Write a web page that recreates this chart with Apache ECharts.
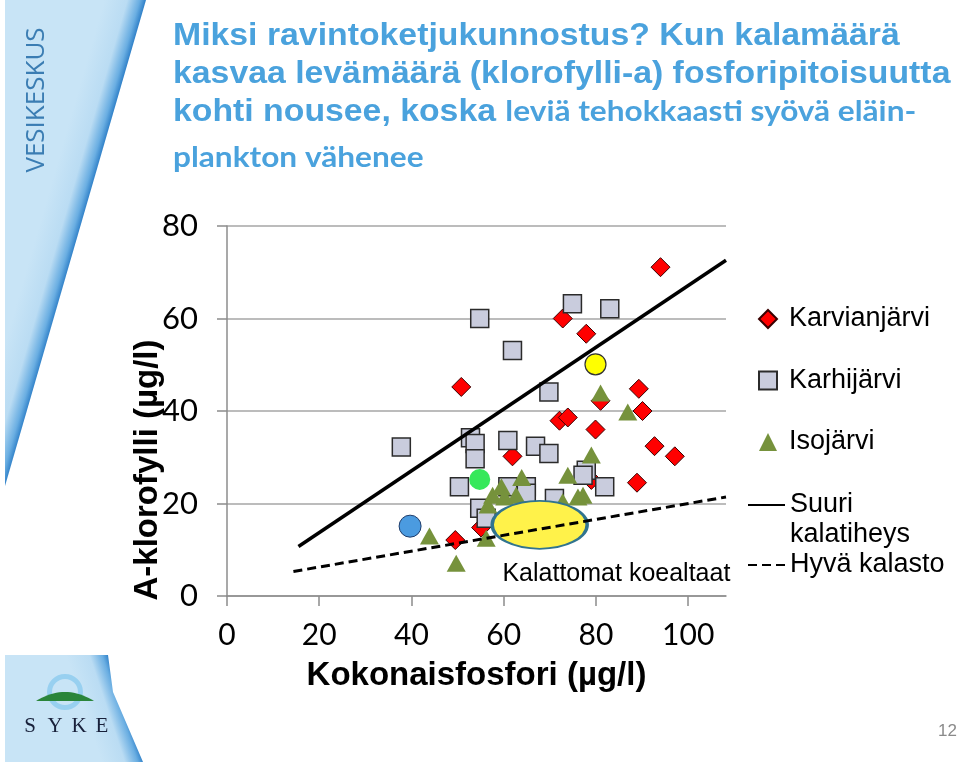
<!DOCTYPE html>
<html><head><meta charset="utf-8">
<script src="https://cdn.jsdelivr.net/npm/echarts@6/dist/echarts.min.js"></script>
<style>html,body{margin:0;padding:0;background:#fff}#c{width:960px;height:765px}</style>
</head><body><div id="c"></div>
<script>
// ---- data ----
const xTicks = [0, 20, 40, 60, 80, 100];
const yTicks = [0, 20, 40, 60, 80];
const karvianjarvi = [[50.8,45.2],[72.8,60.0],[77.9,56.7],[94.0,71.1],[72.1,37.9],[73.9,38.6],[79.9,36.0],[81.0,42.2],[89.3,44.8],[90.1,40.0],[92.7,32.4],[97.1,30.2],[88.9,24.5],[79.0,25.1],[61.9,30.2],[55.1,14.8],[49.5,12.1]];
const karhijarvi = [[54.8,60.0],[74.9,63.2],[83.0,62.1],[61.9,53.1],[69.8,44.1],[37.8,32.2],[52.8,34.2],[53.8,33.0],[53.8,29.7],[60.9,33.6],[66.9,32.4],[69.8,30.8],[50.4,23.6],[60.9,23.6],[64.9,23.6],[64.9,22.2],[54.8,19.0],[56.2,16.8],[71.0,21.1],[77.9,27.2],[77.2,26.1],[81.9,23.6]];
const isojarvi = [[43.9,13.0],[49.7,7.1],[56.2,12.5],[56.6,19.7],[57.6,21.8],[59.5,23.6],[60.2,21.4],[62.7,21.8],[63.9,25.6],[73.9,26.1],[72.8,20.4],[76.1,21.4],[77.2,21.8],[79.0,30.5],[81.0,43.9],[86.9,39.8]];
const highlightGreen = [[54.8,25.2]];
const highlightBlue = [[39.7,15.1]];
const highlightYellow = [[79.9,50.1]];
const fishlessPonds = [[67.8,15.4]];
const suuriKalatiheys = [[15.5,10.7],[108.2,72.6]];
const hyvaKalasto = [[14.4,5.3],[108.2,21.4]];
const names = ['Karvianjärvi','Karhijärvi','Isojärvi','Suuri kalatiheys','Hyvä kalasto'];

const chart = echarts.init(document.getElementById('c'), null, {renderer:'canvas'});
const titleBlue = '#4aa2dd';
const arial = '"Liberation Sans", Arial, sans-serif';
const calib = 'Lato, "Open Sans", sans-serif';
const TSX = 1.09;

// logo dome outline (decoration)
const dome = [];
for (let i = 0; i <= 20; i++) {
  const t = i / 20;
  dome.push([36 + 58 * t, 701 - 9 * (1 - Math.pow(2 * t - 1, 2))]);
}
const panelFill = (x, y, x2, y2) => ({type: 'linear', x, y, x2, y2, global: true,
  colorStops: [{offset: 0, color: '#c8e4f6'}, {offset: 0.55, color: '#badcf3'}, {offset: 0.85, color: '#6aaee2'}, {offset: 1, color: '#2f80c8'}]});

const option = {
  animation: false,
  grid: {left: 227, right: 234, top: 226, bottom: 169, containLabel: false},
  xAxis: {
    type: 'value', min: 0, max: 108.2, interval: 20,
    name: 'Kokonaisfosfori (µg/l)', nameLocation: 'middle', nameGap: 63,
    nameTextStyle: {fontFamily: arial, fontWeight: 'bold', fontSize: 33, color: '#000'},
    axisLine: {show: true, lineStyle: {color: '#8c8c8c', width: 1.5}},
    axisTick: {show: true, length: 10, customValues: xTicks, lineStyle: {color: '#8c8c8c', width: 1.5}},
    axisLabel: {customValues: xTicks, fontFamily: calib, fontSize: 30, color: '#000', margin: 24},
    splitLine: {show: false}
  },
  yAxis: {
    type: 'value', min: 0, max: 80, interval: 20,
    name: 'A-klorofylli (µg/l){sp|}', nameLocation: 'middle', nameRotate: 90, nameGap: 63,
    nameMoveOverlap: false,
    nameTextStyle: {fontFamily: arial, fontWeight: 'bold', fontSize: 33, color: '#000',
      rich: {sp: {width: 118, fontSize: 33}}},
    axisLine: {show: true, onZero: false, lineStyle: {color: '#8c8c8c', width: 1.5}},
    axisTick: {show: true, length: 10, lineStyle: {color: '#8c8c8c', width: 1.5}},
    axisLabel: {fontFamily: calib, fontSize: 31, color: '#000', margin: 29},
    splitLine: {show: true, lineStyle: {color: '#a6a6a6', width: 1.5}}
  },
  legend: [
    {data: names.slice(0,3), orient: 'vertical', left: 758, top: 305.5, padding: 0,
     itemWidth: 18, itemHeight: 18, itemGap: 34.5,
     formatter: n => '{g|}' + n,
     textStyle: {fontFamily: arial, fontSize: 27, lineHeight: 27, color: '#000',
       rich: {g: {width: 7, fontSize: 27}}}},
    {data: [names[3]], orient: 'vertical', left: 747, top: 460, padding: 0,
     itemWidth: 37, itemHeight: 14,
     itemStyle: {color: 'rgba(0,0,0,0)', borderColor: 'rgba(0,0,0,0)', opacity: 0},
     formatter: () => ' \nSuuri\nkalatiheys',
     textStyle: {fontFamily: arial, fontSize: 27, lineHeight: 30, color: '#000'}},
    {data: [names[4]], orient: 'vertical', left: 747, top: 551.5, padding: 0,
     itemWidth: 37, itemHeight: 14,
     itemStyle: {color: 'rgba(0,0,0,0)', borderColor: 'rgba(0,0,0,0)', opacity: 0},
     textStyle: {fontFamily: arial, fontSize: 27, lineHeight: 27, color: '#000'}}
  ],
  series: [
    {name: names[3], type: 'line', data: suuriKalatiheys, symbol: 'none', silent: true,
     lineStyle: {color: '#000', width: 3.5, type: 'solid'}, itemStyle: {color: '#000'}},
    {name: names[4], type: 'line', data: hyvaKalasto, symbol: 'none', silent: true,
     lineStyle: {color: '#000', width: 3, type: [9,5]}, itemStyle: {color: '#000'}},
    {name: names[0], type: 'scatter', data: karvianjarvi, symbol: 'diamond', symbolSize: 19,
     itemStyle: {color: '#ff0000', borderColor: '#3a0000', borderWidth: 1, opacity: 1}},
    {name: names[1], type: 'scatter', data: karhijarvi, symbol: 'rect', symbolSize: 18,
     itemStyle: {color: '#c9ccdd', borderColor: '#2b2b2b', borderWidth: 1.5, opacity: 1}},
    {name: names[2], type: 'scatter', data: isojarvi, symbol: 'triangle', symbolSize: [19,17],
     itemStyle: {color: '#76923c', opacity: 1}},
    {name: 'green', type: 'scatter', data: highlightGreen, symbol: 'circle', symbolSize: 21,
     itemStyle: {color: '#35e85a', opacity: 1}},
    {name: 'blue', type: 'scatter', data: highlightBlue, symbol: 'circle', symbolSize: 22,
     itemStyle: {color: '#4b9be0', borderColor: '#1f3c6a', borderWidth: 1, opacity: 1}},
    {name: 'yellow', type: 'scatter', data: highlightYellow, symbol: 'circle', symbolSize: 21,
     itemStyle: {color: '#ffff00', borderColor: '#333', borderWidth: 1.2, opacity: 1}},
    {name: 'Kalattomat koealtaat', type: 'scatter', data: fishlessPonds, symbol: 'circle', symbolSize: [95,48],
     itemStyle: {color: '#fff24a', borderColor: '#31748f', borderWidth: 2.5, opacity: 1},
     label: {show: true, formatter: 'Kalattomat koealtaat', position: [12, 74], align: 'left', verticalAlign: 'middle',
       fontFamily: arial, fontSize: 25, color: '#000'}}
  ],
  graphic: [
    {type: 'polygon', z: -10, silent: true,
     shape: {points: [[5,0],[146,0],[5,486]]},
     style: {fill: panelFill(107.6, -11.1, 146, 0)}},
    {type: 'polygon', z: -10, silent: true,
     shape: {points: [[5,655],[108,655],[113,692],[143,762],[5,762]]},
     style: {fill: panelFill(72, 672.6, 110, 660)}},
    {type: 'text', silent: true, x: 37, y: 100, rotation: Math.PI/2,
     style: {text: 'VESIKESKUS', font: '26px "Open Sans", sans-serif', fill: '#3b7db3', align: 'center', verticalAlign: 'middle'}},
    {type: 'circle', silent: true, shape: {cx: 65, cy: 692, r: 15.5}, style: {fill: 'none', stroke: '#98d0f0', lineWidth: 5}},
    {type: 'polygon', silent: true, shape: {points: dome}, style: {fill: '#2a853a'}},
    {type: 'text', silent: true, x: 30, y: 726, style: {text: 'S', font: '21px "Liberation Serif", serif', fill: '#18203a', align: 'center', verticalAlign: 'middle'}},
    {type: 'text', silent: true, x: 55, y: 726, style: {text: 'Y', font: '21px "Liberation Serif", serif', fill: '#18203a', align: 'center', verticalAlign: 'middle'}},
    {type: 'text', silent: true, x: 79, y: 726, style: {text: 'K', font: '21px "Liberation Serif", serif', fill: '#18203a', align: 'center', verticalAlign: 'middle'}},
    {type: 'text', silent: true, x: 102, y: 726, style: {text: 'E', font: '21px "Liberation Serif", serif', fill: '#18203a', align: 'center', verticalAlign: 'middle'}},
    {type: 'text', silent: true, x: 957, y: 731, style: {text: '12', font: '17px "Liberation Sans Narrow", "Liberation Sans", sans-serif', fill: '#8a8a8a', align: 'right', verticalAlign: 'middle'}},
    {type: 'text', silent: true, x: 173, y: 36, scaleX: TSX, style: {text: 'Miksi ravintoketjukunnostus? Kun kalamäärä', font: 'bold 31px ' + arial, fill: titleBlue, verticalAlign: 'middle'}},
    {type: 'text', silent: true, x: 173, y: 74, scaleX: TSX, style: {text: 'kasvaa levämäärä (klorofylli-a) fosforipitoisuutta', font: 'bold 31px ' + arial, fill: titleBlue, verticalAlign: 'middle'}},
    {type: 'text', silent: true, x: 173, y: 112, scaleX: TSX, style: {text: '{a|kohti nousee, koska }{c|leviä tehokkaasti syövä eläin-}', verticalAlign: 'middle',
      rich: {a: {fontFamily: arial, fontWeight: 'bold', fontSize: 31, fill: titleBlue},
             c: {fontFamily: calib, fontWeight: 'bold', fontSize: 29, fill: titleBlue}}}},
    {type: 'text', silent: true, x: 173, y: 158, scaleX: TSX, style: {text: 'plankton vähenee', font: 'bold 29px ' + calib, fill: titleBlue, verticalAlign: 'middle'}}
  ]
};
chart.setOption(option);
</script></body></html>
